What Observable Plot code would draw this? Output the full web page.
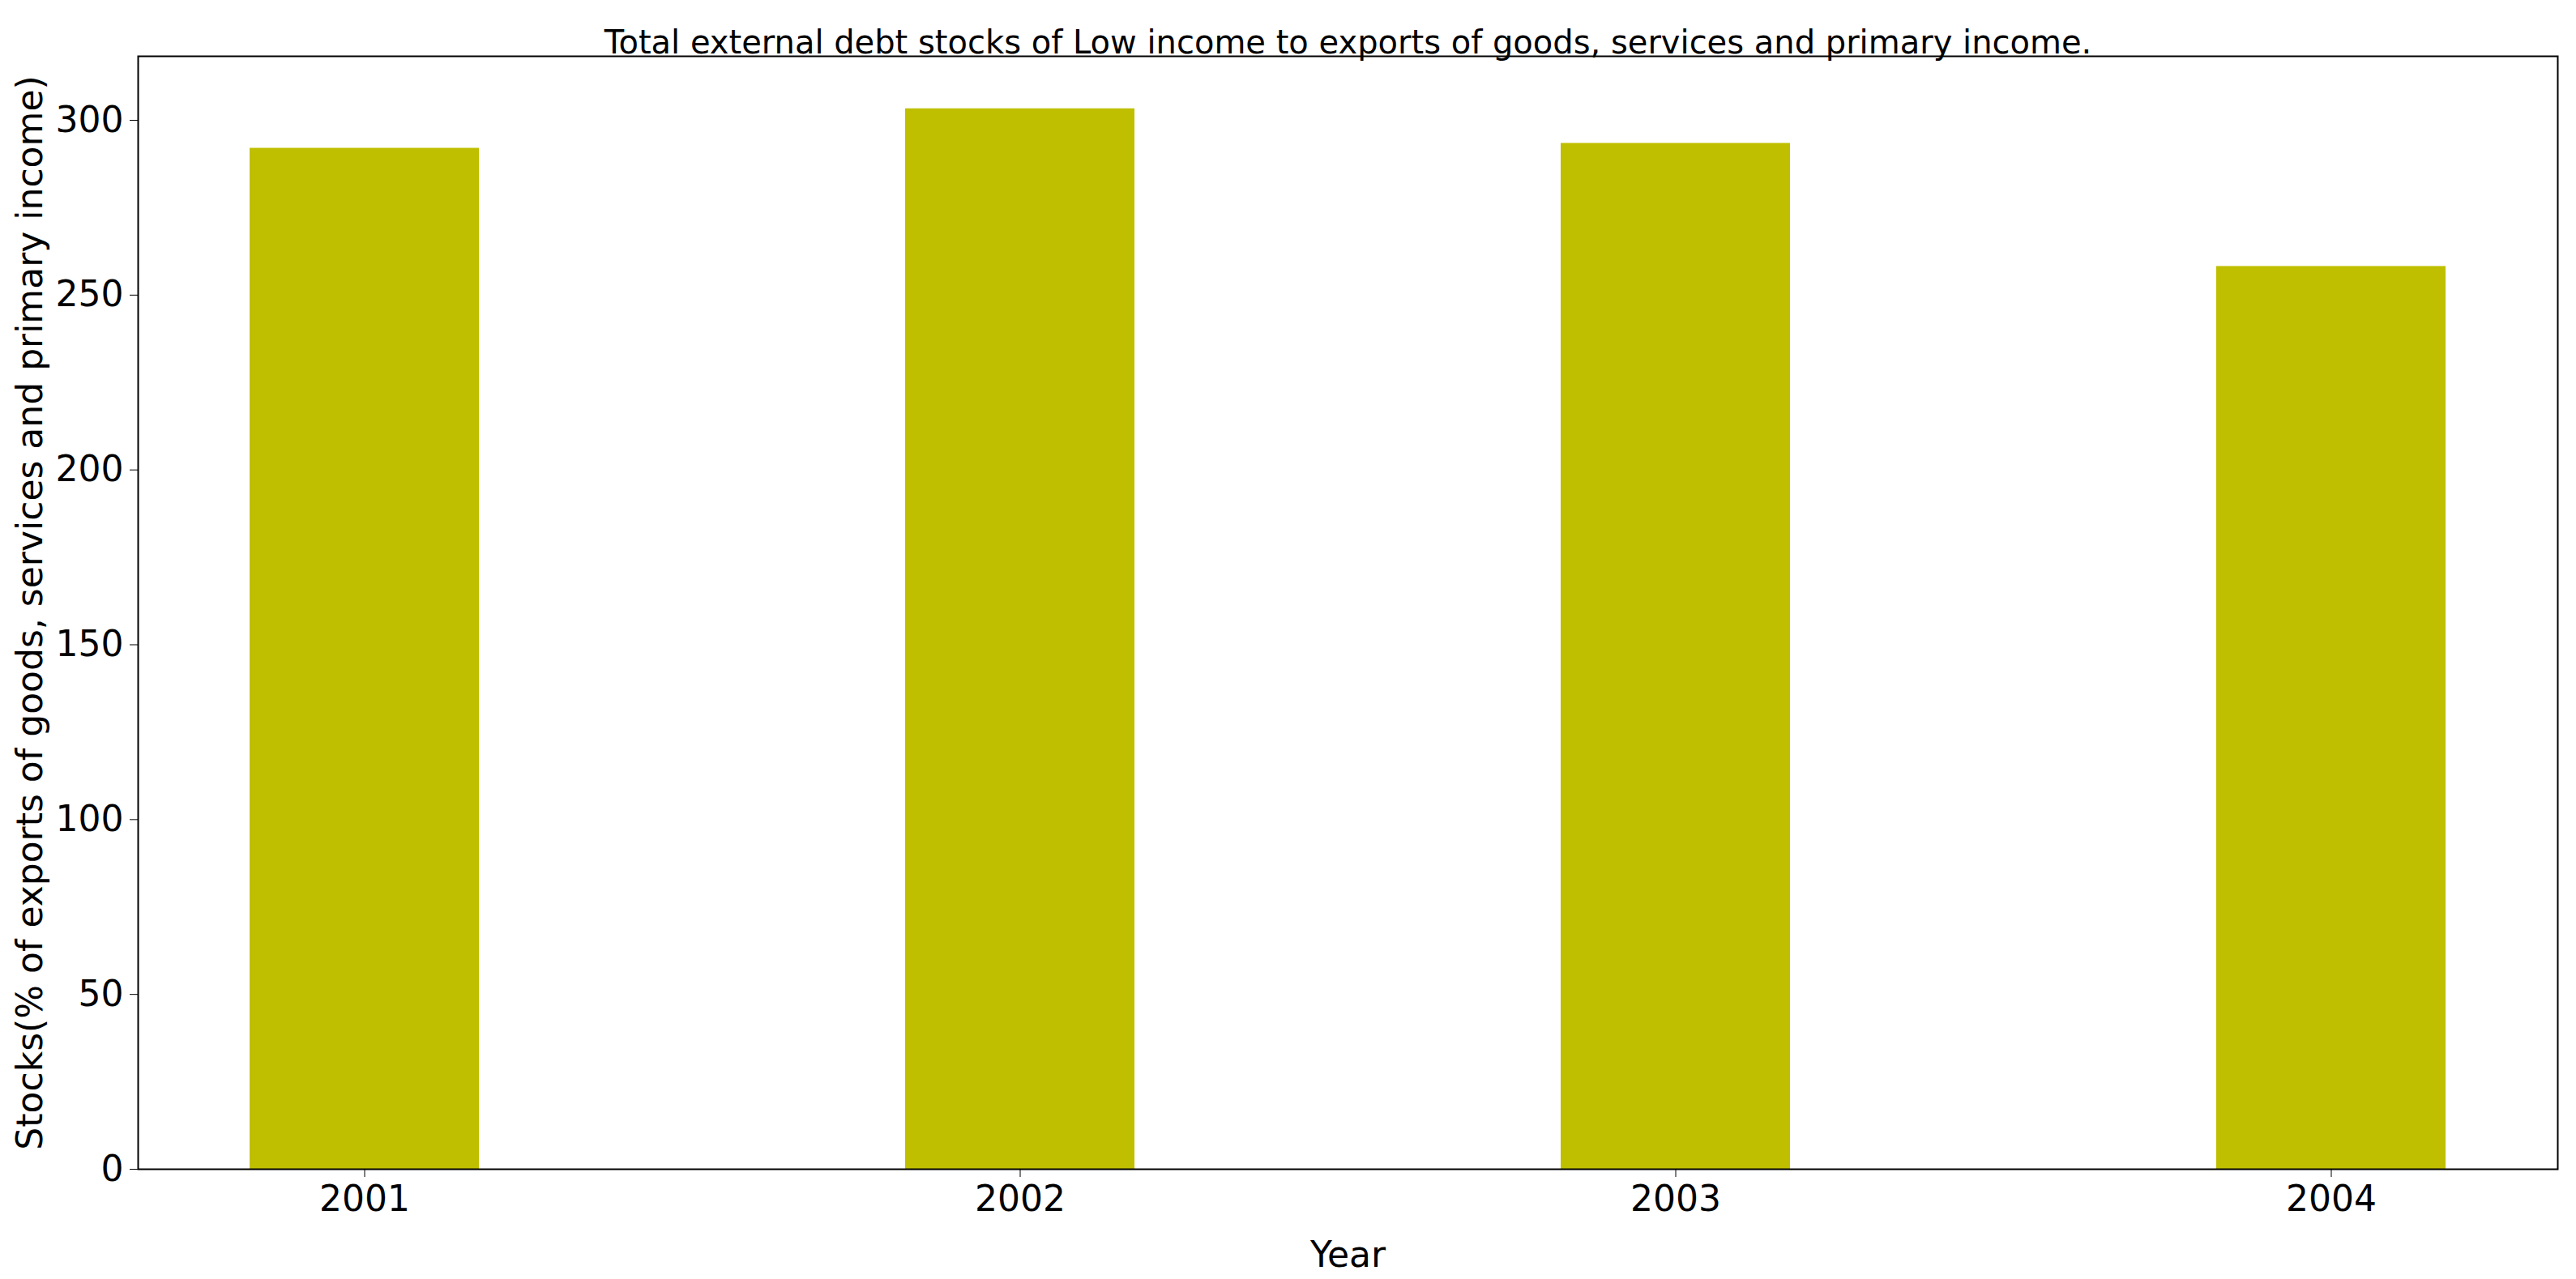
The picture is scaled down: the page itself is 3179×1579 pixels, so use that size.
<!DOCTYPE html>
<html>
<head>
<meta charset="utf-8">
<script src="https://cdn.jsdelivr.net/npm/d3@7"></script>
<script src="https://cdn.jsdelivr.net/npm/@observablehq/plot@0.6"></script>
<style>
  body { margin: 0; background: #fff; }
  svg { font-family: "DejaVu Sans", sans-serif; }
</style>
</head>
<body>
<div id="chart"></div>
<script>
// values
var years = ["2001", "2002", "2003", "2004"]
var stocks = [292, 303.3, 293.4, 258.2]
var title = "Total external debt stocks of Low income to exports of goods, services and primary income."

var data = years.map((y, i) => ({year: y, value: stocks[i]}))

var plot = Plot.plot({
    width: 3179,
    height: 1579,
    marginTop: 69,
    marginBottom: 136,
    marginLeft: 170,
    marginRight: 23,
    style: {fontSize: "44px", fontFamily: "DejaVu Sans, sans-serif", color: "#000", background: "#fff"},
    x: {domain: years, paddingInner: 0.65, paddingOuter: 0.17, label: "Year", labelAnchor: "center", labelOffset: 120, tickSize: 10, tickPadding: 10},
    y: {domain: [0, 318.3], ticks: [0, 50, 100, 150, 200, 250, 300], label: "Stocks(% of exports of goods, services and primary income)", labelAnchor: "center", labelOffset: 150, tickSize: 10, tickPadding: 8},
    marks: [
        Plot.barY(data, {x: "year", y: "value", fill: "#bfbf00"}),
        Plot.frame({stroke: "#000", strokeWidth: 2}),
        Plot.axisX({label: "Year", labelAnchor: "center", labelArrow: "none", labelOffset: 120, tickSize: 10, tickPadding: 10, fontSize: 44}),
        Plot.axisY({ticks: [0, 50, 100, 150, 200, 250, 300], label: "Stocks(% of exports of goods, services and primary income)", labelAnchor: "center", labelArrow: "none", labelOffset: 150, tickSize: 10, tickPadding: 8, fontSize: 44}),
        Plot.text([title], {frameAnchor: "top", dy: -32, fontSize: 40, fill: "#000"})
    ]
})
document.getElementById("chart").append(plot)
</script>
</body>
</html>
